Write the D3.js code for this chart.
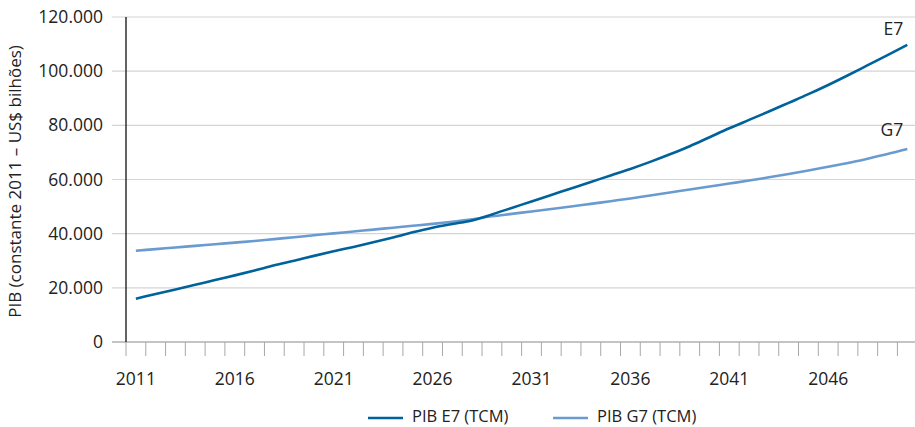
<!DOCTYPE html>
<html>
<head>
<meta charset="utf-8">
<script src="https://cdn.jsdelivr.net/npm/d3@7"></script>
<style>
  html, body { margin: 0; padding: 0; background: #fff; }
  svg { display: block; font-family: "Open Sans", "Noto Sans", sans-serif; }
</style>
</head>
<body>
<svg id="chart" width="915" height="427"></svg>
<script>
const years = d3.range(2011, 2051);
const e7Values = [16000, 17700, 19400, 21100, 22900, 24600, 26400, 28300, 30000, 31800,
                  33500, 35100, 36800, 38600, 40500, 42200, 43600, 44900, 47100, 49500,
                  51900, 54300, 56700, 59100, 61500, 63900, 66500, 69300, 72300, 75600,
                  78900, 82000, 85100, 88300, 91500, 94900, 98500, 102200, 105900, 109700];
const g7Values = [33700, 34300, 34900, 35500, 36100, 36700, 37300, 38000, 38700, 39400,
                  40100, 40800, 41500, 42200, 42900, 43600, 44400, 45300, 46400, 47300,
                  48200, 49100, 50000, 51000, 52000, 53000, 54100, 55200, 56300, 57400,
                  58500, 59600, 60800, 62000, 63300, 64700, 66100, 67700, 69400, 71250];
const yTicks = [0, 20000, 40000, 60000, 80000, 100000, 120000];
const xLabelYears = [2011, 2016, 2021, 2026, 2031, 2036, 2041, 2046];
const seriesNames = ["PIB E7 (TCM)", "PIB G7 (TCM)"];
const endLabels = ["E7", "G7"];
const yTitle = "PIB (constante 2011 – US$ bilhões)";

(function () {
const colors = ["#00629b", "#6a9bd0"];

const svg = d3.select("#chart");
const mLeft = 126, mTop = 17, mBottom = 342, step = 19.78;

const x = d3.scaleBand().domain(years).range([mLeft, mLeft + step * years.length]).padding(0);
const y = d3.scaleLinear().domain([0, 120000]).range([mBottom, mTop]);

const fmt = d3.formatLocale({ decimal: ",", thousands: ".", grouping: [3], currency: ["", ""] }).format(",.0f");

// gridlines
svg.append("g").selectAll("line").data(yTicks.filter(d => d > 0)).join("line")
  .attr("x1", 112).attr("x2", 915)
  .attr("y1", d => y(d)).attr("y2", d => y(d))
  .attr("stroke", "#d4d4d4").attr("stroke-width", 1.2);

// x baseline
svg.append("line").attr("x1", 112).attr("x2", 915)
  .attr("y1", y(0)).attr("y2", y(0))
  .attr("stroke", "#8a8a8a").attr("stroke-width", 1.2);

// x ticks (band boundaries)
svg.append("g").selectAll("line").data(years).join("line")
  .attr("x1", d => x(d)).attr("x2", d => x(d))
  .attr("y1", y(0)).attr("y2", y(0) + 14)
  .attr("stroke", "#a8a8a8").attr("stroke-width", 1);

// y axis line
svg.append("line").attr("x1", mLeft).attr("x2", mLeft)
  .attr("y1", y(120000)).attr("y2", y(0))
  .attr("stroke", "#222").attr("stroke-width", 1.4);

// y tick labels
svg.append("g").selectAll("text").data(yTicks).join("text")
  .attr("x", 103).attr("y", d => y(d))
  .attr("dy", "0.35em")
  .attr("text-anchor", "end")
  .attr("font-size", 17.5).attr("fill", "#222")
  .text(d => fmt(d));

// x tick labels
svg.append("g").selectAll("text").data(xLabelYears).join("text")
  .attr("x", d => x(d) + x.bandwidth() / 2).attr("y", 385)
  .attr("text-anchor", "middle")
  .attr("font-size", 17.5).attr("fill", "#222")
  .text(d => d);

// y title
svg.append("text")
  .attr("transform", `translate(21, ${(mTop + mBottom) / 2 + 2}) rotate(-90)`)
  .attr("text-anchor", "middle")
  .attr("font-size", 17).attr("fill", "#222")
  .text(yTitle);

// lines
const line = d3.line()
  .x((d, i) => x(years[i]) + x.bandwidth() / 2)
  .y(d => y(d))
  .curve(d3.curveMonotoneX);

[[g7Values, colors[1]], [e7Values, colors[0]]].forEach(([vals, c]) => {
  svg.append("path").datum(vals)
    .attr("d", line)
    .attr("fill", "none")
    .attr("stroke", c)
    .attr("stroke-width", 2.6)
    .attr("stroke-linejoin", "round");
});

// end labels
const lastX = x(years[years.length - 1]) + x.bandwidth() / 2;
svg.append("text").attr("x", lastX - 4).attr("y", y(e7Values[e7Values.length - 1]) - 10)
  .attr("text-anchor", "end").attr("font-size", 17.5).attr("fill", "#222").text(endLabels[0]);
svg.append("text").attr("x", lastX - 4).attr("y", y(g7Values[g7Values.length - 1]) - 13)
  .attr("text-anchor", "end").attr("font-size", 17.5).attr("fill", "#222").text(endLabels[1]);

// legend
const legendItems = [{ name: seriesNames[0], color: colors[0], x0: 368 }, { name: seriesNames[1], color: colors[1], x0: 553 }];
const lg = svg.append("g").selectAll("g").data(legendItems).join("g");
lg.append("line").attr("x1", d => d.x0).attr("x2", d => d.x0 + 35)
  .attr("y1", 418).attr("y2", 418)
  .attr("stroke", d => d.color).attr("stroke-width", 2.6);
lg.append("text").attr("x", d => d.x0 + 44).attr("y", 417).attr("dy", "0.33em")
  .attr("font-size", 16.5).attr("fill", "#222").text(d => d.name);
})();
</script>
</body>
</html>
